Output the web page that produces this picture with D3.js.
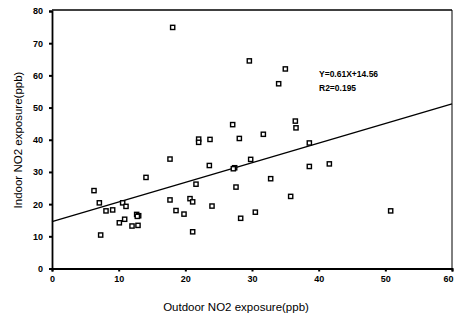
<!DOCTYPE html>
<html><head><meta charset="utf-8">
<script src="https://cdn.jsdelivr.net/npm/d3@7"></script>
<style>body{margin:0;background:#fff}svg{display:block}</style>
</head><body>
<svg id="c" width="455" height="320"></svg>
<script>
const outdoor = [6.3,14.1,7.1,8.1,9.1,10.6,11.1,12.7,13.0,12.8,10.1,10.9,7.3,12.0,12.9,17.7,23.6,27.4,27.2,29.8,21.6,27.6,17.7,20.7,21.1,24.0,18.6,19.8,28.3,30.5,21.1,36.5,36.6,31.7,38.6,38.6,41.6,32.8,35.8,50.8,29.6,35.0,34.0,27.1,22.0,22.0,23.7,28.1,18.1];
const indoor  = [24.2,28.3,20.4,17.9,18.2,20.4,19.3,16.8,16.4,16.2,14.2,15.3,10.4,13.2,13.4,34.0,32.0,31.3,31.0,33.9,26.2,25.3,21.3,21.7,20.7,19.4,18.0,16.9,15.6,17.5,11.4,45.8,43.7,41.7,39.0,31.7,32.5,27.9,22.4,17.9,64.5,62.0,57.4,44.7,40.2,39.2,40.1,40.4,74.9];
const xTicks = [0,10,20,30,40,50,60];
const yTicks = [0,10,20,30,40,50,60,70,80];
const slope = 0.61, intercept = 14.56, r2 = 0.195;

const svg = d3.select("#c");
const L = 52, R = 452, T = 11, B = 268.5;
const x = d3.scaleLinear().domain([0,60]).range([L,R]);
const y = d3.scaleLinear().domain([0,80]).range([B,T]);
const font = "Liberation Sans, Arial, Helvetica, sans-serif";

// frame top/right
svg.append("line").attr("x1",L).attr("x2",R).attr("y1",T-1).attr("y2",T-1).attr("stroke","#000").attr("stroke-width",1.6);
svg.append("line").attr("x1",R).attr("x2",R).attr("y1",T-1).attr("y2",B).attr("stroke","#000").attr("stroke-width",1);

const xa = svg.append("g").attr("transform",`translate(0,${B})`)
  .call(d3.axisBottom(x).tickValues(xTicks).tickSize(3).tickPadding(4));
const ya = svg.append("g").attr("transform",`translate(${L},0)`)
  .call(d3.axisLeft(y).tickValues(yTicks).tickSize(3).tickPadding(6));
[xa,ya].forEach(g=>{
  g.select(".domain").attr("stroke","#000").attr("stroke-width",1.8);
  g.selectAll(".tick line").attr("stroke","#000").attr("stroke-width",2);
  g.selectAll("text").attr("font-family",font).attr("font-size",9).attr("font-weight","bold").attr("fill","#000");
});
// keep the last x label inside the window
xa.selectAll(".tick text").filter(d=>d===60).attr("text-anchor","end").attr("dx",1);

// regression line
svg.append("line")
  .attr("x1",x(0)).attr("y1",y(intercept))
  .attr("x2",x(60)).attr("y2",y(intercept+slope*60))
  .attr("stroke","#000").attr("stroke-width",1.3);

// points
const s = 4.2;
svg.append("g").selectAll("rect").data(outdoor.map((o,i)=>[o,indoor[i]])).join("rect")
  .attr("x",d=>x(d[0])-s/2).attr("y",d=>y(d[1])-s/2)
  .attr("width",s).attr("height",s)
  .attr("fill","#fff").attr("stroke","#000").attr("stroke-width",1.4);

// annotation
svg.append("text").attr("x",319).attr("y",77).attr("font-family",font).attr("font-size",8.5).attr("font-weight","bold")
  .text(`Y=${slope}X+${intercept}`);
svg.append("text").attr("x",319).attr("y",90.5).attr("font-family",font).attr("font-size",8.5).attr("font-weight","bold")
  .text(`R2=${r2}`);

// axis titles
svg.append("text").attr("x",236).attr("y",311).attr("text-anchor","middle")
  .attr("font-family",font).attr("font-size",11.5).text("Outdoor NO2 exposure(ppb)");
svg.append("text").attr("transform","translate(22,140) rotate(-90)").attr("text-anchor","middle")
  .attr("font-family",font).attr("font-size",11.5).text("Indoor NO2 exposure(ppb)");
</script>
</body></html>
